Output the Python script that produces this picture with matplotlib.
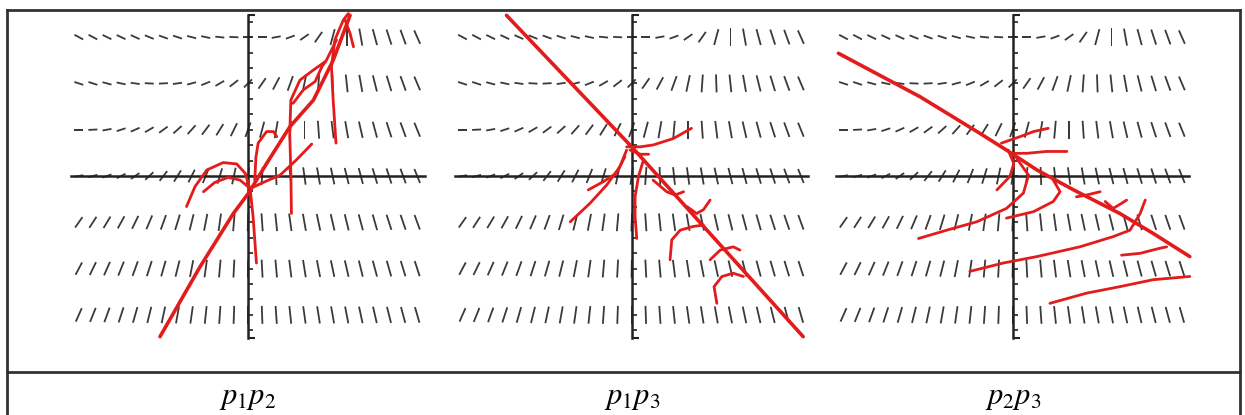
import numpy as np
import matplotlib.pyplot as plt
from matplotlib.lines import Line2D

plt.rcParams['mathtext.fontset'] = 'stix'

# slope field, screen angle in degrees for each row (top row y=3 ... bottom y=-3),
# 25 columns from x=-3 to x=3
slope_rows = [3, 2, 1, 0, -1, -2, -3]
slope_cols = np.arange(-12, 13) * 0.25
angles = [
    [-28, -28, -26, -25, -24, -22, -20, -18, -15, -12, -6, -3, 0,
     0, 10, 20, 35, 55, 75, 90, -80, -75, -72, -70, -66],
    [-18, -18, -15, -12, -8, -3, 3, 8, 15, 22, 30, 38, 45,
     55, 62, 70, 78, 86, -88, -84, -80, -76, -73, -70, -67],
    [0, 3, 10, 18, 24, 30, 36, 42, 48, 53, 58, 64, 70,
     75, 80, 85, 90, -86, -83, -80, -77, -75, -72, -70, -68],
    [10, 15, 20, 27, 35, 43, 52, 58, 63, 68, 73, 78, 82,
     86, -88, -84, -82, -80, -78, -76, -75, -73, -72, -70, -68],
    [55, 57, 59, 61, 64, 67, 70, 73, 76, 79, 82, 85, 88,
     -86, -84, -82, -80, -78, -77, -76, -75, -74, -72, -71, -70],
    [62, 64, 66, 68, 70, 72, 74, 76, 79, 82, 85, 87, 89,
     -87, -85, -83, -81, -79, -78, -77, -76, -75, -74, -73, -72],
    [66, 68, 70, 72, 74, 76, 78, 80, 82, 84, 86, 88, 90,
     -88, -86, -84, -82, -81, -80, -79, -78, -77, -76, -75, -74],
]

# red solution curves, (x, y) per curve
p12_curves = [
    ([-1.56, -0.85, -0.26, 0.01, 0.33, 0.74, 1.16, 1.51, 1.81],
     [-3.47, -1.96, -0.81, -0.37, 0.27, 1.06, 1.64, 2.50, 3.47]),
    ([-1.09, -0.94, -0.73, -0.44, -0.20, -0.05, 0.04, 0.09, 0.15],
     [-0.66, -0.23, 0.13, 0.29, 0.26, 0.06, -0.30, -0.88, -1.88]),
    ([-0.79, -0.59, -0.35, -0.14, 0.04, 0.27, 0.57, 0.86, 1.13],
     [-0.34, -0.14, -0.03, -0.09, -0.27, -0.14, 0.02, 0.35, 0.69]),
    ([0.12, 0.14, 0.18, 0.33, 0.45, 0.51],
     [-0.09, 0.40, 0.71, 0.96, 0.96, 0.85]),
    ([0.77, 0.76, 0.74, 0.76, 0.92, 1.16, 1.37],
     [-0.81, 0.06, 0.92, 1.64, 2.07, 2.29, 2.47]),
    ([1.56, 1.51, 1.48, 1.54, 1.69, 1.78],
     [0.71, 1.64, 2.36, 2.94, 3.37, 3.51]),
    ([0.80, 0.98, 1.19, 1.31, 1.39, 1.57],
     [1.57, 1.86, 2.04, 2.36, 2.50, 2.94]),
    ([1.72, 1.81, 1.87], [3.37, 3.08, 2.79]),
]

p13_curves = [
    ([-2.22, 0.0, 3.04], [3.47, 0.63, -3.47]),
    ([-0.09, 0.15, 0.38, 0.74, 1.06], [0.63, 0.63, 0.67, 0.81, 1.03]),
    ([-0.03, 0.15, 0.30], [0.56, 0.47, 0.47]),
    ([-0.09, -0.21, -0.44, -0.74, -1.09], [0.56, 0.20, -0.19, -0.59, -0.99]),
    ([-0.12, -0.27, -0.50, -0.77], [0.42, 0.06, -0.12, -0.30]),
    ([0.21, 0.12, 0.06, 0.06, 0.09], [0.35, -0.01, -0.45, -0.88, -1.35]),
    ([0.38, 0.62, 0.77, 0.92], [-0.09, -0.34, -0.41, -0.34]),
    ([0.68, 0.71, 0.86, 1.09, 1.27], [-1.81, -1.38, -1.17, -1.09, -1.06]),
    ([0.98, 1.15, 1.27, 1.39], [-0.66, -0.81, -0.73, -0.52]),
    ([1.51, 1.46, 1.60, 1.80, 1.98], [-2.75, -2.39, -2.17, -2.10, -2.17]),
    ([1.39, 1.57, 1.80, 1.92], [-1.81, -1.60, -1.53, -1.60]),
]

p23_curves = [
    ([-3.09, -1.64, -0.58, -0.11, 0.43, 1.08, 1.90, 2.49, 3.14],
     [2.65, 1.71, 0.92, 0.56, 0.13, -0.30, -0.81, -1.24, -1.74]),
    ([-0.20, 0.13, 0.37, 0.63], [0.71, 0.85, 0.96, 1.03]),
    ([-0.02, 0.25, 0.60, 0.96], [0.49, 0.49, 0.53, 0.53]),
    ([-0.08, 0.02, -0.05, -0.28], [0.56, 0.27, -0.01, -0.30]),
    ([0.07, 0.28, 0.19, -0.11, -0.64, -1.17, -1.67],
     [0.38, 0.02, -0.37, -0.70, -0.99, -1.17, -1.35]),
    ([0.72, 0.84, 0.72, 0.37, -0.11], [-0.09, -0.34, -0.55, -0.77, -0.91]),
    ([-0.76, -0.17, 0.43, 1.19, 1.78, 2.08, 2.26, 2.35],
     [-2.06, -1.88, -1.74, -1.53, -1.31, -1.17, -0.81, -0.52]),
    ([0.66, 1.31, 1.90, 2.49, 3.14], [-2.75, -2.53, -2.39, -2.24, -2.17]),
    ([1.93, 2.26, 2.61, 2.73], [-1.71, -1.67, -1.56, -1.53]),
    ([1.13, 1.31, 1.55], [-0.45, -0.41, -0.34]),
    ([1.64, 1.78, 1.93, 2.02], [-0.55, -0.70, -0.59, -0.52]),
]

labels = [r'$p_1p_2$', r'$p_1p_3$', r'$p_2p_3$']
panel_curves = [p12_curves, p13_curves, p23_curves]
centers_px = [248, 631.7, 1012.7]

W, H = 1245, 415
fig = plt.figure(figsize=(W / 100, H / 100), dpi=100)

sx, sy = 56.4, 46.3          # pixels per data unit
xlim, ylim = 3.3, 3.55
X, Y = np.meshgrid(slope_cols, slope_rows)
A = np.array(angles, dtype=float)
th = np.radians(A)
L = 1.0 / np.sqrt((np.cos(th) / 9.0) ** 2 + (np.sin(th) / 18.0) ** 2)

for cx, curves, lab in zip(centers_px, panel_curves, labels):
    w = 2 * xlim * sx
    h = 2 * ylim * sy
    top = 176 - ylim * sy
    ax = fig.add_axes([(cx - w / 2) / W, 1 - (top + h) / H, w / W, h / H])
    ax.set_xlim(-xlim, xlim)
    ax.set_ylim(-ylim, ylim)
    ax.axis('off')

    ax.quiver(X, Y, L, np.zeros_like(L), angles=A, pivot='middle',
              units='dots', scale_units='dots', scale=1, width=1.8,
              headwidth=0, headlength=0, headaxislength=0, color='#3a3a3a')

    # axes
    ax.plot([-3.13, 3.13], [0, 0], color='#222222', lw=1.8)
    ax.plot([0, 0], [-3.5, 3.48], color='#222222', lw=1.8)
    yt = np.arange(-10, 11) / 3.0
    ax.hlines(yt, 0, 0.09, color='#222222', lw=1.2)
    ax.hlines([-3.5, 3.48], 0, 0.13, color='#222222', lw=1.5)

    for i, (xs, ys) in enumerate(curves):
        ax.plot(xs, ys, color='#e41b1b', lw=2.6 if i == 0 else 2.0,
                solid_capstyle='round', solid_joinstyle='round')

    fig.text(cx / W, 1 - 397 / H, lab, ha='center', va='center', fontsize=22)

# table frame
frame = dict(color='#333333', lw=2.0)
fig.add_artist(Line2D([7 / W, 1240 / W], [1 - 10 / H, 1 - 10 / H], **frame))
fig.add_artist(Line2D([7 / W, 1240 / W], [1 - 372 / H, 1 - 372 / H], **frame))
fig.add_artist(Line2D([7 / W, 7 / W], [0, 1 - 10 / H], **frame))
fig.add_artist(Line2D([1240 / W, 1240 / W], [0, 1 - 10 / H], **frame))

fig.savefig('out.png', dpi=100)
